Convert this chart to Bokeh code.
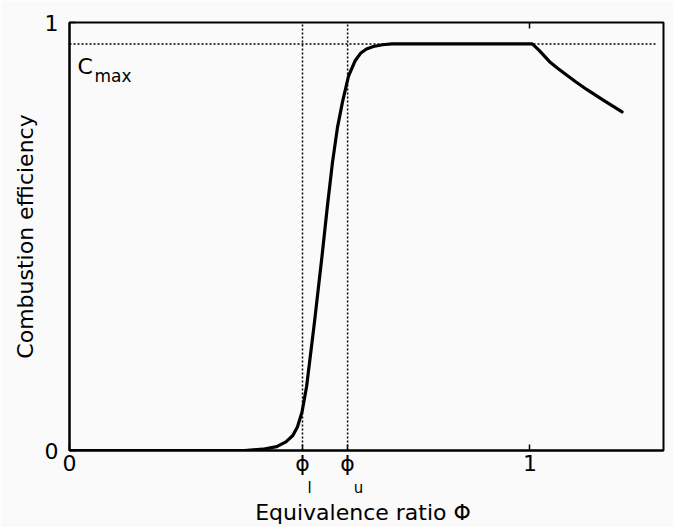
from bokeh.plotting import figure
from bokeh.models import Range1d, FixedTicker, Label, LinearAxis
from bokeh.embed import file_html
from bokeh.resources import INLINE

# Data
phi = [0.0, 0.38, 0.42, 0.45, 0.47, 0.485, 0.495, 0.505, 0.515, 0.532, 0.549,
       0.56, 0.571, 0.582, 0.593, 0.606, 0.62, 0.632, 0.645, 0.66, 0.68, 0.70,
       1.005, 1.02, 1.044, 1.06, 1.081, 1.10, 1.124, 1.16, 1.20]
eff = [0.0, 0.0, 0.003, 0.009, 0.02, 0.035, 0.055, 0.09, 0.15, 0.30, 0.46,
       0.57, 0.672, 0.755, 0.815, 0.875, 0.91, 0.928, 0.938, 0.944, 0.948, 0.95,
       0.95, 0.935, 0.907, 0.893, 0.876, 0.861, 0.843, 0.818, 0.791]
c_max = 0.95
c_max_end = 1.275
phi_l = 0.506
phi_u = 0.604
x_ticks = [0, phi_l, phi_u, 1]
x_tick_labels = {phi_l: "ϕ", phi_u: "ϕ"}
subscripts = ["l", "u"]
y_ticks = [0, 1]

FONT = "DejaVu Sans"
BG = "#fafafa"
X_RANGE = (0, 1.29)
FRAME_W = 594
# horizontal shift (px) of each subscript to the right of its phi tick
sub_shift_px = [7, 11]

p = figure(width=673, height=527, x_range=Range1d(*X_RANGE), y_range=Range1d(0, 1),
           output_backend="svg", toolbar_location=None,
           min_border_left=69, min_border_right=10, min_border_top=22, min_border_bottom=75,
           background_fill_color=BG, border_fill_color=BG)
p.grid.visible = False
p.outline_line_color = "black"
p.outline_line_width = 2

p.xaxis.ticker = FixedTicker(ticks=x_ticks)
p.xaxis.major_label_overrides = x_tick_labels
p.yaxis.ticker = FixedTicker(ticks=y_ticks)
for ax in (p.xaxis[0], p.yaxis[0]):
    ax.minor_tick_line_color = None
    ax.major_tick_in = 6
    ax.major_tick_out = 0
    ax.major_tick_line_width = 1.5
    ax.axis_line_width = 2
    ax.major_label_text_font = FONT
    ax.major_label_text_font_size = "22px"
    ax.major_label_text_color = "black"
    ax.axis_label_text_font = FONT
    ax.axis_label_text_font_style = "normal"
    ax.axis_label_text_color = "black"

p.xaxis.major_label_standoff = 0
p.yaxis.major_label_standoff = 11
p.yaxis.axis_label = "Combustion efficiency"
p.yaxis.axis_label_text_font_size = "22px"
p.yaxis.axis_label_standoff = 4

# second bottom axis: carries the phi subscripts and the x title
px_per_unit = FRAME_W / (X_RANGE[1] - X_RANGE[0])
sub_ticks = [t + s / px_per_unit for t, s in zip([phi_l, phi_u], sub_shift_px)]
sub_axis = LinearAxis(ticker=FixedTicker(ticks=sub_ticks),
                      major_label_overrides=dict(zip(sub_ticks, subscripts)),
                      axis_line_color=None, major_tick_line_color=None,
                      minor_tick_line_color=None, major_label_standoff=0,
                      major_tick_in=0, major_tick_out=0,
                      major_label_text_font=FONT, major_label_text_font_size="15px",
                      major_label_text_color="black",
                      axis_label="Equivalence ratio  Φ", axis_label_text_font=FONT,
                      axis_label_text_font_size="22px", axis_label_text_font_style="normal",
                      axis_label_text_color="black", axis_label_standoff=0)
p.add_layout(sub_axis, "below")

top = LinearAxis(ticker=FixedTicker(ticks=[1]), major_tick_in=6, major_tick_out=0,
                 major_label_overrides={1: ""}, minor_tick_line_color=None,
                 axis_line_color=None, major_tick_line_width=1.5)
p.add_layout(top, "above")

# dotted guide lines
p.segment(x0=[0], y0=[c_max], x1=[c_max_end], y1=[c_max], line_color="black",
          line_width=1.5, line_dash="2 2")
p.segment(x0=[phi_l, phi_u], y0=[0, 0], x1=[phi_l, phi_u], y1=[1, 1], line_color="black",
          line_width=1.5, line_dash="2 2")

# efficiency curve
p.line(phi, eff, line_color="black", line_width=3.2, line_join="round", line_cap="round")

# C_max annotation
p.add_layout(Label(x=0, y=c_max, x_offset=8, y_offset=-23, text="C", text_font=FONT,
                   text_font_size="22px", text_baseline="alphabetic", text_color="black"))
p.add_layout(Label(x=0, y=c_max, x_offset=25, y_offset=-32, text="max", text_font=FONT,
                   text_font_size="17px", text_baseline="alphabetic", text_color="black"))

open("out.html", "w").write(file_html(p, INLINE))
